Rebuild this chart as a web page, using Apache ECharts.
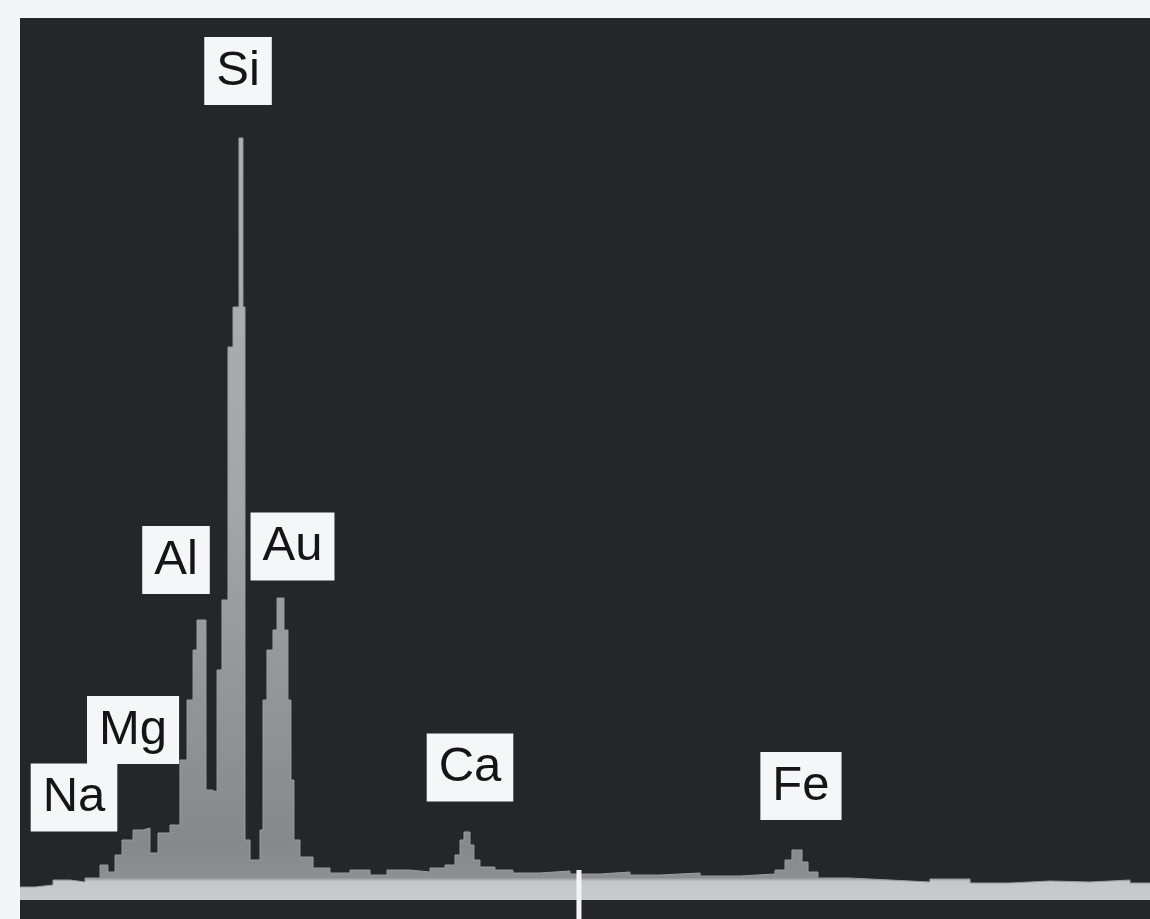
<!DOCTYPE html>
<html>
<head>
<meta charset="utf-8">
<script src="https://cdn.jsdelivr.net/npm/echarts@6/dist/echarts.min.js"></script>
<style>
  html, body { margin: 0; padding: 0; background: #f4f5f7; }
  #chart { width: 1150px; height: 919px; }
</style>
</head>
<body>
<div id="chart"></div>
<script>
// Spectrum channel start energies (keV) and counts (arbitrary units), step histogram
const energies = [-0.1, 0.025, 0.175, 0.317, 0.442, 0.567, 0.633, 0.692, 0.75, 0.842,
  0.925, 0.983, 1.05, 1.15, 1.233, 1.292, 1.342, 1.375, 1.45, 1.5,
  1.542, 1.583, 1.633, 1.675, 1.725, 1.758, 1.775, 1.817, 1.9, 1.925,
  1.958, 2.008, 2.042, 2.1, 2.133, 2.158, 2.183, 2.233, 2.342, 2.483,
  2.65, 2.817, 2.958, 3.15, 3.317, 3.442, 3.525, 3.567, 3.6, 3.65,
  3.683, 3.733, 3.858, 4.008, 4.233, 4.483, 4.733, 4.983, 5.233, 5.567,
  5.9, 6.192, 6.275, 6.333, 6.417, 6.467, 6.55, 6.817, 7.15, 7.483,
  7.817, 8.15, 8.483, 8.817, 9.15, 9.317];
const counts = [13, 15, 20, 18, 22, 35, 28, 45, 60, 70,
  72, 47, 67, 75, 140, 200, 250, 280, 110, 108,
  230, 300, 553, 593, 762, 593, 60, 40, 70, 200,
  250, 270, 302, 270, 200, 120, 60, 43, 32, 27,
  30, 25, 30, 28, 32, 35, 45, 60, 68, 55,
  40, 33, 30, 27, 29, 26, 28, 25, 27, 24,
  26, 30, 40, 50, 38, 28, 22, 20, 18, 21,
  17, 19, 18, 20, 17, 17];

// Element peak labels and where each label box sits (keV, counts)
const elementNames = ['Si', 'Al', 'Au', 'Mg', 'Na', 'Ca', 'Fe'];
const labelEnergy = [1.717, 1.2, 2.171, 0.842, 0.35, 3.65, 6.408];
const labelCount = [829, 340, 353.5, 170, 102.5, 132.5, 114];

// Instrument energy marker (keV)
const markerEnergy = 4.558;

const spectrum = energies.map((e, i) => [e, counts[i]]);
const labels = elementNames.map((n, i) => ({ name: n, value: [labelEnergy[i], labelCount[i]] }));

const chart = echarts.init(document.getElementById('chart'), null, { renderer: 'canvas' });
chart.setOption({
  animation: false,
  backgroundColor: '#f4f5f7',
  grid: {
    left: 20, right: 0, top: 18, bottom: 0,
    show: true, backgroundColor: '#252629', borderWidth: 0
  },
  xAxis: {
    type: 'value', min: -0.1, max: 9.3167, show: false,
    splitLine: { show: false }
  },
  yAxis: {
    type: 'value', min: -19, max: 882, show: false,
    splitLine: { show: false }
  },
  series: [
    {
      type: 'line',
      data: spectrum,
      step: 'end',
      symbol: 'none',
      lineStyle: { width: 1, color: '#9a9da0' },
      areaStyle: {
        origin: 0,
        opacity: 1,
        color: new echarts.graphic.LinearGradient(0, 0, 0, 919, [
          { offset: 0.0, color: '#b4b7b9' },
          { offset: 0.55, color: '#a3a6a8' },
          { offset: 0.92, color: '#86898c' },
          { offset: 0.955, color: '#8d9093' },
          { offset: 0.959, color: '#c5c8ca' },
          { offset: 0.98, color: '#c9ccce' },
          { offset: 1.0, color: '#c9ccce' }
        ], true)
      },
      z: 2
    },
    {
      type: 'line',
      data: [[markerEnergy, -19], [markerEnergy, 30]],
      symbol: 'none',
      lineStyle: { width: 5, color: '#f4f4f4' },
      z: 3
    },
    {
      type: 'scatter',
      data: labels,
      symbolSize: 1,
      itemStyle: { color: 'rgba(0,0,0,0)', opacity: 1 },
      emphasis: { disabled: true },
      label: {
        show: true,
        opacity: 1,
        position: 'inside',
        formatter: '{b}',
        fontFamily: 'Liberation Sans, Arial, sans-serif',
        fontSize: 49,
        lineHeight: 52,
        color: '#151517',
        backgroundColor: '#f5f6f8',
        padding: [9, 12, 7, 12],
        align: 'center',
        verticalAlign: 'middle'
      },
      z: 5
    }
  ]
});
</script>
</body>
</html>
